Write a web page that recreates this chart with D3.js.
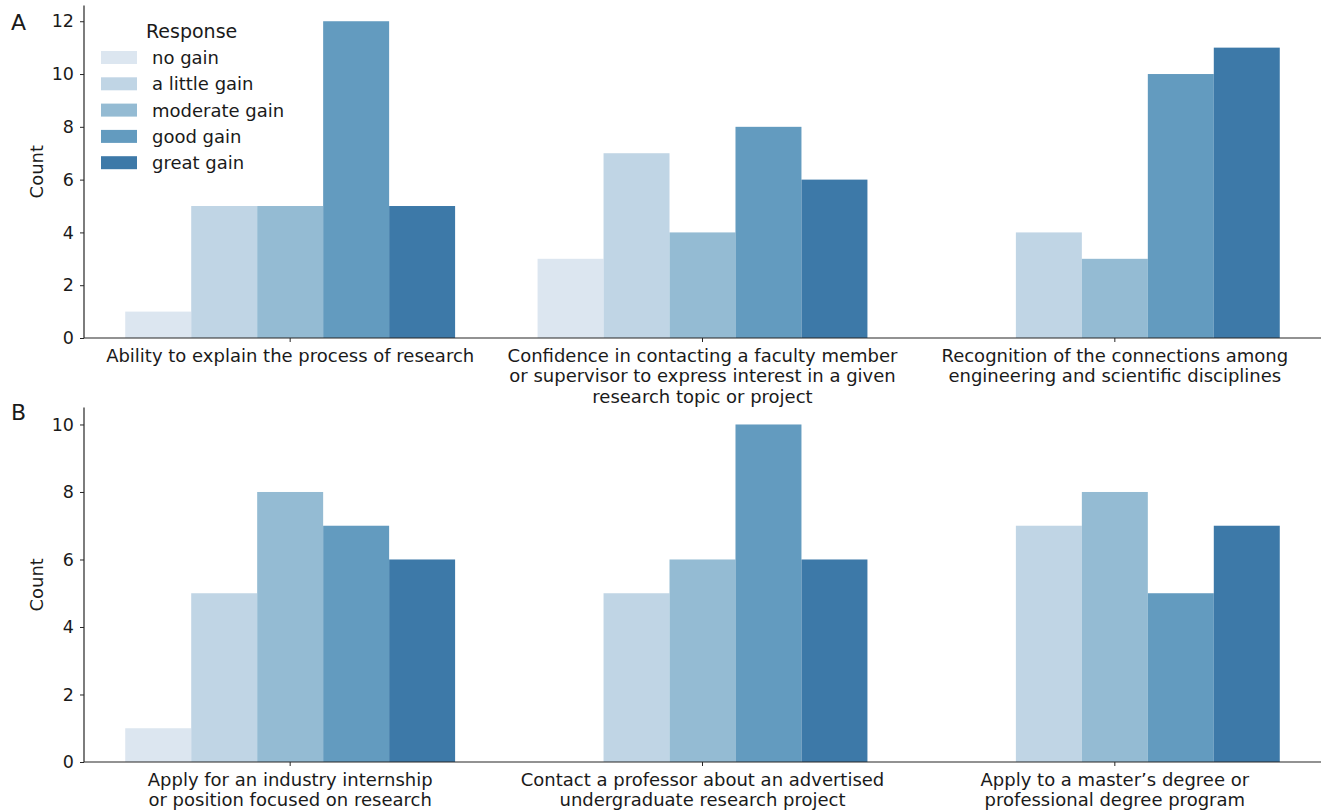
<!DOCTYPE html>
<html>
<head>
<meta charset="utf-8">
<script src="https://cdn.jsdelivr.net/npm/d3@7"></script>
<style>
  html, body { margin: 0; padding: 0; background: #fff; }
  text { font-family: "DejaVu Sans", sans-serif; fill: #1a1a1a; }
</style>
</head>
<body>
<svg id="chart" width="1328" height="811"></svg>
<script>
// Response levels and their colours
const responses = ["no gain", "a little gain", "moderate gain", "good gain", "great gain"];
const responseColors = ["#dce6f0", "#c0d5e5", "#94bbd3", "#639bbf", "#3d79a8"];

// Panel A
const categoriesA = [
  ["Ability to explain the process of research"],
  ["Confidence in contacting a faculty member", "or supervisor to express interest in a given", "research topic or project"],
  ["Recognition of the connections among", "engineering and scientific disciplines"]
];
const countsA = [
  [1, 5, 5, 12, 5],
  [3, 7, 4, 8, 6],
  [0, 4, 3, 10, 11]
];
const ticksA = [0, 2, 4, 6, 8, 10, 12];

// Panel B
const categoriesB = [
  ["Apply for an industry internship", "or position focused on research"],
  ["Contact a professor about an advertised", "undergraduate research project"],
  ["Apply to a master\u2019s degree or", "professional degree program"]
];
const countsB = [
  [1, 5, 8, 7, 6],
  [0, 5, 6, 10, 6],
  [0, 7, 8, 5, 7]
];
const ticksB = [0, 2, 4, 6, 8, 10];

const svg = d3.select("#chart");
const axisColor = "#262626";

function drawPanel(opts) {
  const { letter, cats, counts, ticks, yMax, top, bottom, legend } = opts;
  const left = 84, right = 1321;
  const g = svg.append("g");

  const x = d3.scaleBand().domain(d3.range(cats.length)).range([left, right]).paddingInner(0).paddingOuter(0);
  const inner = d3.scaleBand().domain(d3.range(responses.length)).range([0, x.bandwidth() * 0.8]);
  const offset = x.bandwidth() * 0.1;
  const y = d3.scaleLinear().domain([0, yMax]).range([bottom, top]);

  // bars
  cats.forEach((c, i) => {
    g.selectAll(null).data(counts[i]).enter().append("rect")
      .attr("x", (d, j) => x(i) + offset + inner(j))
      .attr("y", d => y(d))
      .attr("width", inner.bandwidth())
      .attr("height", d => y(0) - y(d))
      .attr("fill", (d, j) => responseColors[j]);
  });

  // y axis
  const yAxis = d3.axisLeft(y).tickValues(ticks).tickSize(4).tickPadding(6).tickFormat(d3.format("d"));
  const ya = g.append("g").attr("transform", `translate(${left},0)`).call(yAxis);
  ya.select(".domain").attr("stroke", axisColor).attr("stroke-width", 1.2).attr("d", `M0,${top}V${bottom}`);
  ya.selectAll(".tick line").attr("stroke", axisColor);
  ya.selectAll(".tick text").style("font-size", "17.5px").style("font-family", "DejaVu Sans").attr("fill", "#1a1a1a");

  // x axis
  const xAxis = d3.axisBottom(x).tickSize(4).tickFormat("");
  const xa = g.append("g").attr("transform", `translate(0,${bottom})`).call(xAxis);
  xa.select(".domain").attr("stroke", axisColor).attr("stroke-width", 1.2).attr("d", `M${left},0H${right}`);
  xa.selectAll(".tick line").attr("stroke", axisColor);

  // category labels
  cats.forEach((lines, i) => {
    const t = g.append("text")
      .attr("x", x(i) + x.bandwidth() / 2)
      .attr("y", bottom + 23.5)
      .attr("text-anchor", "middle")
      .style("font-size", "18px");
    lines.forEach((ln, k) => {
      t.append("tspan").attr("x", x(i) + x.bandwidth() / 2).attr("dy", k === 0 ? 0 : 20.5).text(ln);
    });
  });

  // y label
  g.append("text")
    .attr("transform", `translate(43,${(top + bottom) / 2}) rotate(-90)`)
    .attr("text-anchor", "middle")
    .style("font-size", "18px")
    .text("Count");

  // panel letter
  g.append("text")
    .attr("x", 11)
    .attr("y", opts.letterY)
    .style("font-size", "22px")
    .text(letter);

  if (legend) {
    const lg = g.append("g");
    lg.append("text").attr("x", 146).attr("y", 38).style("font-size", "19px").text("Response");
    responses.forEach((r, j) => {
      const cy = 57.5 + j * 26.3;
      lg.append("rect").attr("x", 101).attr("y", cy - 6.5).attr("width", 36).attr("height", 13).attr("fill", responseColors[j]);
      lg.append("text").attr("x", 152).attr("y", cy + 6.5).style("font-size", "18px").text(r);
    });
  }
}

drawPanel({ letter: "A", cats: categoriesA, counts: countsA, ticks: ticksA, yMax: 12.6, top: 5.4, bottom: 338, legend: true, letterY: 30 });
drawPanel({ letter: "B", cats: categoriesB, counts: countsB, ticks: ticksB, yMax: 10.5, top: 407.6, bottom: 762, legend: false, letterY: 420 });
</script>
</body>
</html>
